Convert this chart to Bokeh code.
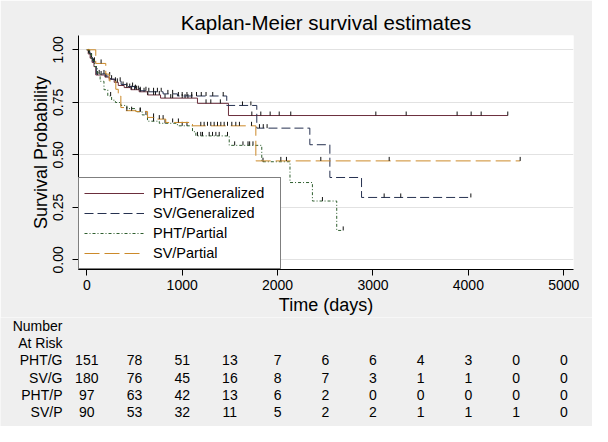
import numpy as np
from bokeh.plotting import figure
from bokeh.models import Range1d, FixedTicker, PrintfTickFormatter
from bokeh.layouts import column, row
from bokeh.embed import file_html
from bokeh.resources import INLINE
from bokeh.core.properties import value

FONT = "Liberation Sans"
BG = "#EFEFEF"

# ---------------- data ----------------
group_names = ["PHT/Generalized", "SV/Generalized", "PHT/Partial", "SV/Partial"]

pht_g_time = [0, 15, 35, 55, 75, 94, 190, 235, 287, 330, 392, 462, 549, 636, 773, 1160, 1485, 4413]
pht_g_surv = [1.0, 0.98, 0.96, 0.94, 0.92, 0.88, 0.87, 0.86, 0.845, 0.83, 0.82, 0.81, 0.80, 0.785, 0.77, 0.745, 0.687, 0.687]
pht_g_cens = [30, 45, 70, 110, 150, 200, 260, 320, 380, 420, 450, 470, 500, 520, 540, 560, 600, 640, 700,
              720, 760, 820, 880, 900, 1000, 1030, 1060, 1100, 1250, 1300, 1400, 1730, 1824, 1922, 2017,
              2138, 3030, 3348, 3882, 4029, 4134, 4413]

sv_g_time = [0, 20, 40, 60, 85, 100, 200, 250, 300, 360, 420, 500, 560, 650, 800, 950, 1467, 1782, 2338, 2548, 2880, 4026]
sv_g_surv = [1.0, 0.985, 0.965, 0.945, 0.925, 0.885, 0.875, 0.86, 0.85, 0.835, 0.825, 0.815, 0.805, 0.80, 0.79,
             0.78, 0.735, 0.627, 0.548, 0.392, 0.297, 0.297]
sv_g_cens = [20, 50, 80, 130, 180, 240, 300, 350, 420, 480, 510, 560, 620, 650, 700, 740, 780, 850, 900, 960,
             1000, 1050, 1100, 1150, 1200, 1250, 1320, 1430, 1632, 1720, 1810, 1850, 1890, 3117, 3291, 4026]

pht_p_time = [0, 25, 50, 80, 110, 140, 180, 220, 260, 300, 357, 420, 513, 580, 636, 760, 950, 1108, 1143, 1493,
              1834, 2130, 2365, 2620, 2688]
pht_p_surv = [1.0, 0.98, 0.95, 0.92, 0.89, 0.85, 0.81, 0.78, 0.76, 0.749, 0.735, 0.72, 0.705, 0.69, 0.66, 0.65,
              0.638, 0.61, 0.59, 0.545, 0.467, 0.368, 0.28, 0.14, 0.14]
pht_p_cens = [250, 560, 620, 700, 820, 1000, 1050, 1160, 1195, 1213, 1283, 1318, 1353, 1388, 1475, 1550, 1637,
              1690, 1707, 1742, 1847, 2470, 2688]

sv_p_time = [0, 94, 199, 235, 304, 330, 357, 400, 513, 637, 741, 828, 1108, 1772, 4543]
sv_p_surv = [1.0, 0.935, 0.884, 0.852, 0.812, 0.78, 0.725, 0.71, 0.706, 0.678, 0.67, 0.654, 0.638, 0.471, 0.471]
sv_p_cens = [150, 420, 470, 560, 700, 760, 800, 900, 960, 1195, 1230, 1265, 1300, 1335, 1370, 1405, 1440, 1475,
             1520, 1562, 1600, 1727, 2034, 2093, 2453, 3170, 4543]

x_ticks = [0, 1000, 2000, 3000, 4000, 5000]
y_ticks = [0, 0.25, 0.5, 0.75, 1.0]

table_rows = ["Number", "At Risk", "PHT/G", "SV/G", "PHT/P", "SV/P"]
risk_times = [0, 500, 1000, 1500, 2000, 2500, 3000, 3500, 4000, 4500, 5000]
risk_pht_g = [151, 78, 51, 13, 7, 6, 6, 4, 3, 0, 0]
risk_sv_g = [180, 76, 45, 16, 8, 7, 3, 1, 1, 0, 0]
risk_pht_p = [97, 63, 42, 13, 6, 2, 0, 0, 0, 0, 0]
risk_sv_p = [90, 53, 32, 11, 5, 2, 2, 1, 1, 1, 0]

# ---------------- styling / layout ----------------
colors = ["#6B2E3C", "#263150", "#2F5F2F", "#CC8A2A"]
dashes = ["solid", "9 4", "3 2 1 2", "15 5"]

W = 592
H1, H2 = 317, 109
BL, BR, BT, BB = 78, 19, 35, 48
X0, X1 = -87, 5102
Y0, Y1 = -0.046, 1.068
kx = (W - BL - BR) / (X1 - X0)
ky = (H1 - BT - BB) / (Y1 - Y0)

p = figure(width=W, height=H1, x_range=Range1d(X0, X1), y_range=Range1d(Y0, Y1),
           output_backend="svg", toolbar_location=None,
           min_border_left=BL, min_border_right=BR, min_border_top=BT, min_border_bottom=BB,
           background_fill_color="white", border_fill_color=BG, outline_line_color=None)

p.title.text = "Kaplan-Meier survival estimates"
p.title.align = "center"
p.title.text_font = FONT
p.title.text_font_size = "20.5px"
p.title.text_font_style = "normal"
p.title.text_color = "black"
p.title.standoff = 3

for ax in (p.xaxis, p.yaxis):
    ax.axis_line_color = "black"
    ax.axis_line_width = 1
    ax.major_tick_line_color = "black"
    ax.major_tick_out = 6
    ax.major_tick_in = 0
    ax.minor_tick_line_color = None
    ax.major_label_text_font = FONT
    ax.major_label_text_font_size = "14px"
    ax.major_label_text_color = "black"
    ax.axis_label_text_font = FONT
    ax.axis_label_text_font_style = "normal"
    ax.axis_label_text_color = "black"

p.xaxis.ticker = FixedTicker(ticks=x_ticks)
p.xaxis.axis_label = "Time (days)"
p.xaxis.axis_label_text_font_size = "18px"
p.xaxis.major_label_standoff = 4
p.xaxis.axis_label_standoff = 2

p.yaxis.ticker = FixedTicker(ticks=y_ticks)
p.yaxis.formatter = PrintfTickFormatter(format="%.2f")
p.yaxis.major_label_orientation = "vertical"
p.yaxis.axis_label = "Survival Probability"
p.yaxis.axis_label_text_font_size = "18px"
p.yaxis.major_label_standoff = 9
p.yaxis.axis_label_standoff = 0

p.xgrid.visible = False
p.ygrid.ticker = FixedTicker(ticks=y_ticks)
p.ygrid.grid_line_color = "#E2E2E2"
p.ygrid.grid_line_width = 1

series = [
    (pht_g_time, pht_g_surv, pht_g_cens),
    (sv_g_time, sv_g_surv, sv_g_cens),
    (pht_p_time, pht_p_surv, pht_p_cens),
    (sv_p_time, sv_p_surv, sv_p_cens),
]

tick_h = 4.0 / ky

for (t, s, c), name, col, dash in zip(series, group_names, colors, dashes):
    p.step(x=t, y=s, mode="after", line_color=col, line_width=1, line_dash=dash, legend_label=name)
    t_arr = np.asarray(t, dtype=float)
    s_arr = np.asarray(s, dtype=float)
    c_arr = np.asarray(c, dtype=float)
    idx = np.clip(np.searchsorted(t_arr, c_arr, side="right") - 1, 0, len(s_arr) - 1)
    cy = s_arr[idx]
    p.segment(x0=c_arr, y0=cy, x1=c_arr, y1=cy + tick_h, line_color="#111111", line_width=1)

lg = p.legend[0]
lg.location = "bottom_left"
lg.margin = 0
lg.padding = 5
lg.spacing = 0
lg.glyph_width = 60
lg.glyph_height = 20
lg.label_height = 20
lg.label_standoff = 9
lg.label_width = 122
lg.label_text_font = FONT
lg.label_text_font_size = "14.5px"
lg.label_text_color = "black"
lg.border_line_color = "black"
lg.border_line_width = 1
lg.background_fill_color = "white"
lg.background_fill_alpha = 1.0

# ---------------- number-at-risk table (own full-width frame, same x scale) ----------------
T0 = X0 - BL / kx
T1 = X1 + BR / kx
ROW0_PX, ROW_PX = 8.3, 17.3
y_top = -ROW0_PX / ROW_PX
y_bot = (H2 - ROW0_PX) / ROW_PX

p2 = figure(width=W, height=H2, x_range=Range1d(T0, T1), y_range=Range1d(y_bot, y_top),
            output_backend="svg", toolbar_location=None, min_border=0,
            min_border_left=0, min_border_right=0, min_border_top=0, min_border_bottom=0,
            x_axis_location=None, y_axis_location=None,
            background_fill_color=BG, border_fill_color=BG, outline_line_color=None)
p2.grid.visible = False

label_x = X0 - 16 / kx
row_idx = list(range(len(table_rows)))
p2.text(x=[label_x] * len(table_rows), y=row_idx, text=table_rows, text_align="right",
        text_baseline="middle", text_font=value(FONT), text_font_size="14px", text_color="black")

for i, vals in enumerate([risk_pht_g, risk_sv_g, risk_pht_p, risk_sv_p]):
    p2.text(x=risk_times, y=[row_idx[i + 2]] * len(risk_times), text=[str(v) for v in vals],
            text_align="center", text_baseline="middle", text_font=value(FONT),
            text_font_size="14px", text_color="black")

layout = column(p, row(p2, spacing=0), spacing=0)
open("out.html", "w").write(file_html(layout, INLINE))
